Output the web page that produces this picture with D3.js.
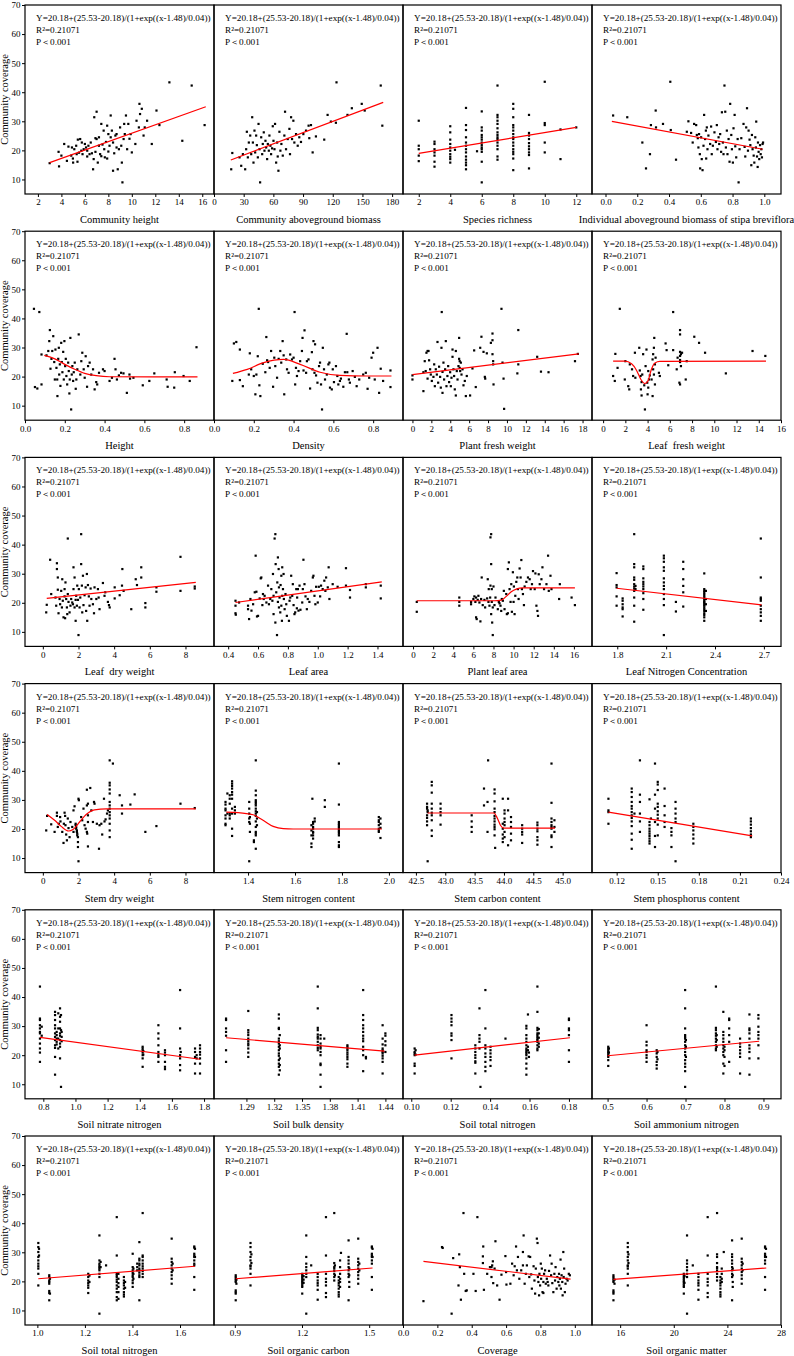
<!DOCTYPE html>
<html>
<head>
<meta charset="utf-8">
<script src="https://cdn.jsdelivr.net/npm/d3@7"></script>
<style>
  body { margin: 0; background: #fff; }
  svg { display: block; }
</style>
</head>
<body>
<svg id="chart" width="794" height="1356"></svg>
<script>
// ---- shared text / y axis ----
const eqText = "Y=20.18+(25.53-20.18)/(1+exp((x-1.48)/0.04))"
const r2Text = "R\u00B2=0.21071"
const pText = "P\uFF1C0.001"
const yTitle = "Community coverage"
const yTicks = [10, 20, 30, 40, 50, 60, 70]

// ---- panel data: [x, coverage] points, or [x, [coverage...]] columns ----
const commHeight = [[3.0,15.6],[3.76,19.5],[3.8,14.5],[4.0,18.2],[4.24,22.2],[4.47,16.4],[4.6,21.3],[4.84,18.2],[4.9,21.0],[4.98,17.2],[5.0,15.8],[5.1,20.4],[5.26,21.6],[5.3,18.7],[5.37,16.1],[5.4,23.7],[5.5,19.2],[5.6,23.9],[5.7,19.9],[5.74,22.7],[5.8,18.7],[5.9,20.4],[6.0,22.2],[6.1,21.0],[6.2,17.9],[6.2,19.9],[6.3,21.6],[6.4,18.7],[6.5,22.7],[6.6,19.0],[6.7,13.5],[6.75,17.0],[6.8,31.4],[6.9,19.5],[6.9,24.2],[7.0,33.3],[7.0,23.9],[7.1,15.8],[7.2,21.6],[7.2,24.5],[7.3,18.7],[7.4,29.1],[7.4,18.0],[7.5,22.0],[7.6,26.8],[7.65,20.4],[7.7,17.6],[7.8,22.9],[7.9,28.5],[7.9,17.2],[8.0,25.6],[8.0,19.6],[8.1,21.6],[8.2,32.0],[8.2,24.5],[8.3,26.8],[8.4,22.7],[8.4,13.0],[8.5,19.0],[8.6,25.1],[8.7,25.6],[8.7,21.0],[8.8,13.5],[8.9,20.4],[9.0,27.9],[9.1,21.6],[9.15,15.8],[9.2,9.0],[9.3,23.9],[9.35,29.1],[9.4,25.6],[9.5,32.0],[9.6,20.4],[9.7,29.1],[9.8,24.0],[9.9,25.6],[10.0,19.3],[10.3,22.2],[10.4,30.2],[10.6,27.9],[10.65,36.0],[10.7,32.5],[10.85,34.3],[11.0,25.1],[11.1,27.9],[11.3,30.2],[11.7,22.2],[12.1,33.7],[12.35,28.7],[13.2,43.4],[14.3,23.3],[15.1,42.3],[16.2,28.7]]
const fitCommHeight = [[3.0,15.8],[16.3,35.0]]

const commBiomass = [[17.4,13.5],[18.5,19.1],[25.8,17.6],[27.5,14.7],[29.2,18.7],[31.5,13.5],[32.5,20.4],[33.2,26.4],[34.2,17.6],[35.2,22.7],[36.6,25.1],[37.6,18.7],[38.6,31.4],[39.3,22.7],[39.9,15.8],[40.9,26.8],[41.6,19.3],[42.6,25.1],[43.3,21.8],[44.3,17.6],[45.0,29.1],[46.0,20.4],[46.6,9.0],[47.7,24.5],[48.7,18.7],[49.3,22.2],[50.3,26.2],[51.0,19.9],[52.0,23.3],[52.7,21.0],[53.7,17.0],[54.4,22.2],[55.4,19.9],[56.0,25.1],[57.0,21.6],[57.7,18.7],[58.7,20.7],[59.4,28.3],[60.1,23.3],[61.1,20.4],[61.7,29.1],[62.8,15.8],[63.8,22.7],[64.4,17.9],[65.1,13.0],[66.1,26.4],[67.1,19.9],[68.1,22.2],[69.5,18.2],[71.1,25.1],[71.8,33.3],[72.8,20.4],[74.5,23.9],[76.2,27.4],[76.8,18.7],[77.9,31.4],[78.9,23.9],[80.2,30.2],[81.2,22.7],[82.9,25.6],[84.6,21.6],[86.2,24.5],[87.9,22.9],[90.3,25.6],[93.0,26.8],[95.6,28.5],[96.3,24.2],[98.0,28.7],[99.7,19.3],[103,24.8],[111.4,23.7],[114.8,32.2],[118.1,29.9],[123.2,29.5],[123.8,43.4],[134.9,32.2],[139.3,34.5],[149.3,36.0],[152.3,33.7],[168.5,42.3],[170.1,28.5]]
const fitCommBiomass = [[17,16.7],[171,36.5]]

const richness = [[2,[30.2,21.6,20.4,18.2,16.3]],[3,[23.0,22.2,20.4,19.3,18.2,16.1,14.4]],[4,[28.3,26.2,23.7,22.2,21.0,19.9,18.7,17.8,17.0,15.8]],[4.3,[20.2]],[5,[34.6,28.7,27.0,24.5,22.7,21.6,20.4,19.3,17.9,16.8,15.8,14.9,13.5]],[5.7,[19.7]],[6,[33.4,27.9,26.8,25.3,24.5,23.7,22.7,21.8,21.0,20.4,19.5,16.1,9.0]],[7,[42.3,32.2,31.4,30.2,29.1,27.6,26.2,25.3,24.5,23.9,22.7,21.6,20.4,17.9,16.8]],[8,[36.0,34.3,31.4,28.7,27.9,26.8,25.6,24.5,23.9,22.7,21.6,20.4,19.5,18.7,17.2,13.2]],[9,[32.2,26.0,25.1,23.9,22.5,21.4,20.4,19.3,18.4,13.8]],[10,[43.6,29.4,28.7,22.7,19.3]],[11,[27.2,17.0]],[12,[27.9]]]
const fitRichness = [[2,19.0],[12,27.9]]

const indivBiomass = [[0.048,32.0],[0.137,31.4],[0.232,22.7],[0.255,13.8],[0.28,18.7],[0.286,28.7],[0.316,33.7],[0.318,27.9],[0.362,29.1],[0.408,43.6],[0.411,27.0],[0.444,16.8],[0.512,26.4],[0.522,30.0],[0.539,26.0],[0.549,22.7],[0.558,29.1],[0.571,28.7],[0.575,25.3],[0.581,24.2],[0.585,21.0],[0.589,25.6],[0.594,18.7],[0.596,13.8],[0.602,24.5],[0.606,17.0],[0.611,13.2],[0.617,21.6],[0.621,32.2],[0.627,23.9],[0.632,26.8],[0.634,17.2],[0.638,27.9],[0.642,20.4],[0.648,25.1],[0.659,22.2],[0.665,28.2],[0.669,18.7],[0.676,21.6],[0.686,26.2],[0.695,22.9],[0.701,28.7],[0.705,20.4],[0.712,24.5],[0.716,22.2],[0.722,25.6],[0.728,19.5],[0.733,33.1],[0.739,22.7],[0.743,18.7],[0.749,42.3],[0.754,33.3],[0.758,21.0],[0.764,26.8],[0.768,18.7],[0.775,23.9],[0.781,16.1],[0.785,36.0],[0.792,25.3],[0.796,20.4],[0.802,15.8],[0.806,27.6],[0.813,32.2],[0.817,21.4],[0.823,17.6],[0.832,23.9],[0.838,9.0],[0.844,20.4],[0.855,24.2],[0.869,29.1],[0.876,21.2],[0.88,17.9],[0.886,27.9],[0.891,34.5],[0.897,19.9],[0.901,26.8],[0.907,23.7],[0.912,21.8],[0.918,14.9],[0.922,25.3],[0.926,20.4],[0.933,18.2],[0.937,15.8],[0.943,24.5],[0.947,21.0],[0.949,29.9],[0.954,17.9],[0.958,14.3],[0.96,22.7],[0.964,19.5],[0.968,17.0],[0.973,21.8],[0.977,18.7],[0.981,20.4],[0.985,17.6],[0.989,22.2],[0.992,22.7]]
const fitIndivBiomass = [[0.04,30.0],[0.99,20.4]]

const heightPts = [[0.045,43.3],[0.072,42.2],[0.05,16.4],[0.062,15.9],[0.083,27.6],[0.083,17.3],[0.108,27.3],[0.117,28.8],[0.122,32.2],[0.125,36.0],[0.128,22.7],[0.133,26.1],[0.137,28.8],[0.142,33.9],[0.147,25.0],[0.15,19.0],[0.153,29.3],[0.158,23.0],[0.162,19.0],[0.163,13.3],[0.167,26.1],[0.17,29.9],[0.172,20.7],[0.175,24.2],[0.178,16.8],[0.182,31.6],[0.185,25.0],[0.188,21.5],[0.192,28.5],[0.195,19.0],[0.198,32.2],[0.202,23.6],[0.205,26.1],[0.208,20.2],[0.212,17.3],[0.217,24.8],[0.22,21.9],[0.223,14.2],[0.225,19.0],[0.228,33.3],[0.232,8.7],[0.235,20.7],[0.238,23.6],[0.242,18.5],[0.245,21.5],[0.25,24.8],[0.255,15.8],[0.258,19.0],[0.263,22.5],[0.27,34.5],[0.278,20.7],[0.283,25.3],[0.288,28.2],[0.295,22.5],[0.3,19.6],[0.305,27.0],[0.312,16.5],[0.317,23.6],[0.325,24.8],[0.333,20.7],[0.342,22.5],[0.35,15.6],[0.358,18.1],[0.363,17.3],[0.372,21.3],[0.392,22.5],[0.4,21.9],[0.425,18.5],[0.437,19.6],[0.45,26.1],[0.455,22.5],[0.462,19.0],[0.472,20.4],[0.483,21.3],[0.495,21.1],[0.512,14.4],[0.525,20.7],[0.528,19.3],[0.545,19.6],[0.592,17.0],[0.625,18.5],[0.65,21.1],[0.712,19.0],[0.717,16.5],[0.753,21.5],[0.75,16.2],[0.797,20.2],[0.828,18.5],[0.862,30.1]]
const fitHeight = [[0.097,27.3],[0.15,26.1],[0.2,24.2],[0.25,22.5],[0.3,21.1],[0.358,20.3],[0.425,19.95],[0.867,19.9]]

const densityPts = [[0.092,18.5],[0.1,31.4],[0.112,31.9],[0.13,29.3],[0.13,18.8],[0.145,16.7],[0.175,20.7],[0.18,28.0],[0.187,22.5],[0.2,20.2],[0.208,13.9],[0.213,20.7],[0.22,27.0],[0.225,43.3],[0.228,17.0],[0.233,13.3],[0.245,24.4],[0.258,21.5],[0.263,33.6],[0.267,25.6],[0.272,25.0],[0.28,23.0],[0.287,28.8],[0.297,16.5],[0.303,26.5],[0.308,23.6],[0.317,19.6],[0.325,26.1],[0.333,28.8],[0.338,24.8],[0.345,32.2],[0.35,27.3],[0.353,13.9],[0.363,25.9],[0.367,22.5],[0.375,21.3],[0.383,27.6],[0.392,25.9],[0.4,26.5],[0.405,42.2],[0.408,17.3],[0.412,23.0],[0.417,20.2],[0.425,21.9],[0.433,25.3],[0.442,28.8],[0.445,33.3],[0.45,22.1],[0.455,35.9],[0.463,21.3],[0.467,25.3],[0.475,25.9],[0.483,15.9],[0.492,28.4],[0.495,22.5],[0.5,32.2],[0.505,21.3],[0.508,31.1],[0.513,20.4],[0.52,17.9],[0.528,23.6],[0.533,24.8],[0.538,17.3],[0.543,8.7],[0.547,29.9],[0.553,22.5],[0.558,19.0],[0.567,20.7],[0.575,24.2],[0.58,24.8],[0.583,16.2],[0.592,15.6],[0.597,22.5],[0.603,18.1],[0.613,23.6],[0.62,20.2],[0.625,17.3],[0.633,18.5],[0.638,19.3],[0.65,16.5],[0.658,21.5],[0.667,34.7],[0.67,21.5],[0.678,19.0],[0.683,17.9],[0.697,21.9],[0.708,19.9],[0.717,16.7],[0.73,19.0],[0.75,20.7],[0.763,21.3],[0.772,15.8],[0.78,19.6],[0.792,26.5],[0.8,28.2],[0.808,19.0],[0.822,29.9],[0.83,14.4],[0.838,22.7],[0.85,18.5],[0.887,22.1],[0.887,16.4]]
const fitDensity = [[0.095,21.1],[0.167,22.5],[0.25,24.8],[0.35,25.9],[0.433,24.2],[0.533,21.5],[0.633,20.4],[0.767,20.2],[0.892,20.2]]

const plantFresh = [[0,20.4],[0,19.0],[1.16,21.5],[1.16,15.0],[1.3,25.3],[1.4,21.9],[1.48,28.2],[1.6,19.3],[1.6,28.8],[1.7,28.8],[1.76,25.6],[1.87,22.5],[1.94,20.7],[2.05,18.5],[2.22,19.9],[2.3,24.2],[2.37,16.7],[2.47,22.5],[2.58,20.7],[2.65,31.9],[2.72,17.9],[2.82,23.4],[2.93,19.9],[3.0,16.2],[3.07,29.9],[3.1,42.2],[3.18,21.6],[3.18,14.4],[3.28,24.8],[3.35,19.0],[3.46,22.5],[3.53,32.2],[3.6,16.7],[3.7,20.2],[3.78,23.6],[3.88,18.1],[3.99,21.5],[4.06,16.7],[4.13,19.6],[4.24,29.3],[4.24,26.8],[4.34,22.5],[4.41,20.2],[4.48,15.6],[4.59,28.8],[4.59,13.5],[4.69,21.9],[4.77,19.0],[4.87,23.6],[4.94,26.1],[4.94,33.3],[5.0,25.3],[5.0,23.0],[5.05,21.9],[5.12,24.8],[5.19,20.7],[5.3,22.5],[5.4,17.0],[5.54,18.5],[5.65,13.3],[5.75,20.2],[6.1,13.5],[6.35,22.8],[6.53,29.0],[6.7,16.4],[7.17,29.9],[7.3,33.7],[7.52,28.5],[7.66,19.9],[7.7,19.3],[7.87,28.0],[8.3,31.6],[8.47,34.8],[8.47,32.5],[8.47,27.7],[8.54,25.3],[8.54,24.2],[8.58,17.3],[9.42,43.3],[9.53,24.8],[9.64,19.3],[9.7,8.9],[11.2,36.0],[11.2,24.2],[11.1,21.1],[13.2,26.8],[13.6,21.7],[14.4,21.5],[17.2,25.3],[17.5,27.8]]
const fitPlantFresh = [[0,20.7],[17.6,27.8]]

const leafFresh = [[0.9,20.2],[1.05,18.5],[1.1,27.8],[1.3,23.0],[1.5,43.3],[1.95,19.0],[2.0,25.3],[2.26,16.7],[2.35,15.6],[2.4,24.2],[2.6,22.5],[2.7,20.2],[2.86,28.2],[2.9,19.6],[3.25,29.9],[3.3,22.1],[3.37,20.2],[3.4,15.6],[3.46,18.1],[3.46,13.5],[3.52,20.7],[3.6,27.7],[3.7,17.0],[3.76,8.7],[3.82,23.6],[3.9,29.3],[3.97,17.9],[4.0,13.9],[4.06,21.9],[4.06,16.2],[4.12,19.0],[4.2,20.4],[4.36,19.0],[4.45,25.9],[4.45,13.3],[4.5,27.7],[4.5,22.5],[4.57,29.9],[4.57,20.7],[4.6,33.3],[4.66,24.2],[4.66,17.3],[4.72,26.5],[5.02,21.3],[5.1,20.2],[5.62,31.4],[5.71,29.1],[5.86,23.9],[6.3,42.2],[6.3,29.1],[6.62,22.5],[6.7,26.5],[6.86,17.9],[6.92,36.0],[6.92,34.5],[6.92,28.5],[6.92,27.1],[6.92,25.7],[6.92,25.0],[6.92,17.3],[7.0,27.7],[7.0,23.6],[7.1,28.2],[7.43,19.0],[7.52,25.3],[8.2,33.7],[8.63,31.6],[9.17,28.2],[11.04,21.1],[13.44,28.8],[14.59,27.1]]
const fitLeafFresh = [[0.9,25.3],[1.95,25.3],[2.56,24.4],[3.0,22.2],[3.4,19.0],[3.75,17.6],[4.05,18.6],[4.3,22.0],[4.66,24.7],[5.1,25.2],[14.65,25.3]]

const leafDry = [[0.19,16.7],[0.22,19.3],[0.41,34.8],[0.47,23.0],[0.71,21.8],[0.75,19.0],[0.79,33.6],[0.79,31.6],[0.84,28.7],[0.84,24.5],[0.88,16.4],[0.94,21.3],[0.97,19.5],[1.03,24.1],[1.07,18.4],[1.09,28.1],[1.12,20.7],[1.16,15.0],[1.22,22.2],[1.22,24.7],[1.25,14.7],[1.27,27.0],[1.31,21.3],[1.35,18.4],[1.37,16.1],[1.4,42.1],[1.4,23.0],[1.44,20.3],[1.5,16.7],[1.55,19.0],[1.59,21.3],[1.65,20.1],[1.69,19.5],[1.72,32.2],[1.72,24.7],[1.78,18.4],[1.78,28.7],[1.84,21.0],[1.84,13.8],[1.87,22.4],[1.91,19.0],[1.93,25.9],[1.97,21.0],[2.0,8.9],[2.02,24.7],[2.06,18.4],[2.1,21.8],[2.15,43.6],[2.15,33.3],[2.19,25.9],[2.21,16.7],[2.25,29.3],[2.28,19.2],[2.34,22.6],[2.4,25.3],[2.43,17.2],[2.47,29.9],[2.49,13.8],[2.53,26.1],[2.58,22.2],[2.62,19.0],[2.68,24.9],[2.72,21.3],[2.81,19.5],[2.87,16.4],[2.9,25.3],[3.0,21.3],[3.09,24.7],[3.13,21.8],[3.18,17.8],[3.37,26.8],[3.46,22.4],[3.5,23.6],[3.65,20.3],[3.71,19.2],[3.75,18.4],[4.03,21.5],[4.03,25.3],[4.31,22.6],[4.44,25.9],[4.46,31.6],[4.53,24.1],[4.96,17.8],[5.21,28.1],[5.28,26.1],[5.52,32.2],[5.52,28.7],[5.75,19.9],[5.75,18.4],[6.37,25.3],[6.37,23.8],[7.72,35.8],[7.72,24.1],[8.52,25.6],[8.52,24.9]]
const fitLeafDry = [[0.22,21.5],[8.58,27.0]]

const leafArea = [[0.449,20.7],[0.449,19.0],[0.449,16.4],[0.451,15.9],[0.473,20.1],[0.533,19.0],[0.533,17.8],[0.54,14.4],[0.549,21.3],[0.556,17.3],[0.567,19.5],[0.578,23.6],[0.584,36.2],[0.589,23.8],[0.593,15.3],[0.6,15.5],[0.611,21.5],[0.618,28.4],[0.622,28.7],[0.629,19.2],[0.633,23.0],[0.638,21.3],[0.644,22.4],[0.656,20.1],[0.667,25.9],[0.673,19.5],[0.682,21.3],[0.689,24.7],[0.696,20.7],[0.7,29.9],[0.704,22.4],[0.704,16.1],[0.711,42.1],[0.716,43.6],[0.716,13.2],[0.718,33.3],[0.722,23.6],[0.727,8.9],[0.729,27.0],[0.733,35.6],[0.733,20.3],[0.738,31.6],[0.74,25.3],[0.74,18.4],[0.744,21.8],[0.749,16.7],[0.751,26.1],[0.756,29.3],[0.756,19.0],[0.76,13.8],[0.762,32.2],[0.762,22.4],[0.767,24.7],[0.771,29.9],[0.773,21.3],[0.778,17.8],[0.784,23.0],[0.789,19.5],[0.793,15.5],[0.807,13.8],[0.811,20.7],[0.816,21.8],[0.822,29.3],[0.829,22.4],[0.833,26.4],[0.838,19.2],[0.844,16.1],[0.849,16.7],[0.856,24.7],[0.86,18.1],[0.862,21.8],[0.867,24.7],[0.871,17.3],[0.878,25.9],[0.884,17.6],[0.896,20.1],[0.9,24.7],[0.904,34.8],[0.911,26.4],[0.918,22.2],[0.927,17.8],[0.933,21.3],[0.944,20.3],[0.956,24.1],[0.967,28.7],[0.971,29.3],[0.978,22.4],[0.984,19.5],[0.989,25.5],[1.0,20.1],[1.007,25.5],[1.016,22.2],[1.022,25.9],[1.033,24.7],[1.044,27.6],[1.051,24.1],[1.056,28.7],[1.067,25.3],[1.073,32.2],[1.078,21.3],[1.1,26.4],[1.133,25.5],[1.189,31.9],[1.189,25.9],[1.216,24.4],[1.216,21.8],[1.322,26.4],[1.322,25.3],[1.422,25.9],[1.422,21.5]]
const fitLeafArea = [[0.449,20.1],[1.429,27.2]]

const plantLeafArea = [[0.37,20.3],[0.37,16.9],[4.6,21.8],[4.6,20.3],[4.6,19.0],[5.77,20.3],[5.77,19.5],[6.0,21.3],[6.1,22.2],[6.2,20.3],[6.27,21.8],[6.27,15.0],[6.33,14.4],[6.43,21.0],[6.5,22.4],[6.6,20.1],[6.7,13.6],[6.77,21.3],[6.83,28.7],[6.93,19.2],[7.1,21.0],[7.17,18.4],[7.37,21.5],[7.43,28.1],[7.5,20.3],[7.53,24.7],[7.6,19.0],[7.67,21.8],[7.7,42.5],[7.7,25.9],[7.77,43.6],[7.77,33.3],[7.77,16.1],[7.83,24.7],[7.83,20.3],[7.87,13.2],[7.93,8.9],[7.93,18.4],[8.0,25.6],[8.1,19.2],[8.2,21.8],[8.43,17.8],[8.53,20.3],[8.6,19.8],[8.7,19.0],[8.77,17.2],[8.83,21.3],[8.93,20.7],[9.03,24.1],[9.1,17.8],[9.27,23.0],[9.33,16.1],[9.43,31.6],[9.43,16.4],[9.53,33.9],[9.6,24.7],[9.7,20.3],[9.77,26.4],[9.83,16.9],[9.93,30.5],[10.0,20.3],[10.03,25.6],[10.1,16.1],[10.17,22.4],[10.27,27.2],[10.37,28.7],[10.43,24.7],[10.5,21.3],[10.6,31.8],[10.7,28.7],[10.77,34.7],[10.83,24.7],[10.93,23.0],[11.03,19.2],[11.1,25.6],[11.27,27.2],[11.43,28.7],[11.6,28.1],[11.7,24.7],[11.83,26.4],[11.93,30.9],[12.1,24.7],[12.17,30.1],[12.27,19.0],[12.37,17.2],[12.43,15.5],[12.5,29.8],[12.6,26.4],[12.77,28.1],[12.87,32.2],[13.03,24.7],[13.27,26.4],[13.43,36.2],[13.5,24.1],[13.67,29.3],[13.77,24.7],[14.6,26.4],[14.53,21.3],[15.77,21.8],[16.1,19.2]]
const fitPlantLeafArea = [[0.37,20.7],[8.1,20.7],[8.77,20.9],[9.27,22.2],[9.77,23.8],[10.27,24.7],[10.93,25.1],[16.1,25.1]]

const leafN = [[1.796,[30.2,26.1,25.3,22.2,19.0]],[1.833,[21.5,20.7,19.5,18.4,17.8,15.3]],[1.904,[43.6,33.3,32.2,28.7,27.9,26.4,25.6,24.9,24.1,21.8,19.0,13.5]],[1.912,[25.8,24.7]],[1.96,[32.5,31.6,28.4,27.2,26.4,25.6,24.7,23.3,21.3,17.6]],[2.086,[36.2,35.3,34.1,32.2,31.0,28.4,27.0,25.8,24.7,23.0,21.3,19.2,8.9]],[2.16,[17.0,20.3]],[2.205,[34.1,31.6,28.1,25.8,23.6,18.7]],[2.334,[30.1,24.7,24.1,23.6,23.0,22.4,21.8,21.3,20.7,20.3,19.9,19.4,19.0,18.4,17.8,17.2,16.4,15.8,15.0,13.8]],[2.344,[24.1,21.3,19.5,17.2]],[2.681,[42.1,28.7,21.8,21.3,20.7,19.0,17.8,16.7,15.5,13.8]]]
const fitLeafN = [[1.796,25.0],[2.685,19.3]]

const stemDry = [[0.19,19.5],[0.24,24.5],[0.47,21.6],[0.66,19.0],[0.79,25.6],[0.79,24.5],[0.84,20.7],[0.9,21.8],[0.97,24.1],[0.99,22.6],[1.09,19.0],[1.16,15.2],[1.18,21.8],[1.22,25.6],[1.25,24.5],[1.27,21.3],[1.31,18.1],[1.35,16.1],[1.4,23.6],[1.44,20.3],[1.5,17.2],[1.55,22.4],[1.65,20.7],[1.72,26.4],[1.72,19.0],[1.78,27.8],[1.84,21.8],[1.84,21.3],[1.87,20.7],[1.87,20.1],[1.91,19.5],[1.91,19.0],[1.93,18.4],[1.93,17.8],[1.97,17.2],[1.97,15.5],[1.97,13.8],[2.0,8.9],[2.0,30.4],[2.02,29.9],[2.15,24.1],[2.21,23.0],[2.28,27.0],[2.34,21.3],[2.4,20.1],[2.47,33.5],[2.47,28.1],[2.47,19.0],[2.49,18.4],[2.53,14.0],[2.53,28.7],[2.53,24.7],[2.53,22.4],[2.66,34.1],[2.72,26.4],[2.81,22.4],[2.87,29.3],[2.9,28.7],[3.03,21.8],[3.15,13.2],[3.18,21.3],[3.28,21.8],[3.33,18.1],[3.43,30.4],[3.46,22.6],[3.52,23.3],[3.6,25.3],[3.65,26.4],[3.75,43.6],[3.75,35.9],[3.75,35.0],[3.75,33.6],[3.75,32.2],[3.75,29.3],[3.75,28.1],[3.75,27.0],[3.75,25.8],[3.75,24.7],[3.75,23.6],[3.75,21.8],[3.75,19.5],[3.75,17.2],[3.93,42.5],[4.31,31.6],[4.44,28.1],[4.44,25.3],[5.15,31.9],[4.91,28.4],[5.75,19.0],[6.37,21.0],[7.72,28.7],[8.52,27.2]]
const fitStemDry = [[0.24,25.0],[0.66,23.0],[1.03,20.9],[1.45,19.3],[1.69,19.8],[2.06,22.4],[2.43,25.0],[2.9,26.6],[3.56,26.9],[8.58,26.9]]

const stemN = [[1.304,[29.3,28.4,27.0,26.4,24.7,23.6,21.8,21.3]],[1.312,[32.2,25.3]],[1.322,[31.6,30.4,28.7,25.3,24.7,23.6]],[1.332,[36.4,35.6,34.8,33.9,32.7,31.8,30.4,27.0,25.3,20.1,17.6]],[1.344,[27.6,26.4,25.3]],[1.405,[29.3,27.0,25.3,23.6,22.4,8.9]],[1.408,[24.1,21.8,19.0]],[1.425,[15.5,16.1]],[1.433,[43.6,33.2,31.6,29.9,29.3,28.7,28.1,27.0,26.1,25.3,24.5,22.6,20.7,19.0,18.4,17.8,13.2]],[1.438,[25.8,23.6,21.3]],[1.67,[21.3,19.5,17.8,15.0,13.8]],[1.674,[30.4]],[1.677,[22.4,21.8,20.7,20.1,19.0,18.7,17.8,16.7]],[1.684,[23.6,22.6]],[1.727,[29.9,27.6]],[1.787,[42.5,28.4,22.4,21.8,21.3,20.7,20.1,19.5,19.0,18.4,17.8,15.5,14.4,13.8]],[1.957,[24.1,23.0,22.4,21.3,20.1,19.5,19.0]],[1.964,[23.6,21.8,20.4,16.9]]]
const fitStemN = [[1.308,25.8],[1.393,25.3],[1.422,24.9],[1.464,23.0],[1.507,20.9],[1.55,20.1],[1.592,20.0],[1.97,20.0]]

const stemC = [[42.69,[28.7,27.6,27.0,24.7,23.8,22.6,21.3]],[42.7,[26.4,25.8,8.9]],[42.77,[36.2,35.0,32.5,28.7,27.0,25.6,24.7,23.0,19.5,17.6]],[42.92,[28.7,27.0,25.8,24.7,21.5]],[43.45,[24.7,22.6,20.7,19.0]],[43.66,[33.9,28.1]],[43.72,[29.3,19.0]],[43.73,[43.6]],[43.84,[33.6,32.2,29.5,27.0,25.8,24.5,23.6,22.6,21.5,20.7,19.9,17.8]],[43.85,[13.5]],[43.98,[30.4,21.8,20.1,18.1,16.7,15.5]],[44.01,[26.4,25.3,23.6,22.4,21.3,19.0,17.2]],[44.07,[30.4,26.4,14.4]],[44.12,[24.1,22.4,20.7,18.4,16.1]],[44.31,[21.3,20.1,19.0,18.1,15.2]],[44.57,[22.2,21.3,20.1,19.2,17.2,16.1,14.6]],[44.81,[42.5,29.0,23.6,22.4,21.3,20.7,20.1,17.8,17.2,13.8]],[44.86,[23.0,20.7,19.0]]]
const fitStemC = [[42.7,25.5],[43.83,25.5],[43.89,23.6],[43.94,21.3],[44.0,20.3],[44.87,20.3]]

const stemP = [[0.114,[30.4,26.4,21.8,25.8]],[0.131,[33.9,32.7,31.0,29.3,27.9,27.0,25.8,24.7,23.8,22.6,21.0,18.4,16.3,13.2]],[0.133,[25.3]],[0.137,[31.8,29.3,43.6,25.3,22.6,19.0]],[0.144,[30.2,22.4,21.3,20.1,19.2,18.4,17.6,16.7,15.8,15.0]],[0.145,[23.6]],[0.148,[42.5,31.8,27.0,22.4,17.6,13.8]],[0.15,[36.2,35.3,33.4,28.7,27.6,26.1,24.9,23.6,21.5,17.8]],[0.155,[33.9,27.9,24.7,22.4,20.7]],[0.16,[20.3,19.0,13.8,17.8]],[0.163,[29.3,27.0,25.3,23.6,8.9,22.4]],[0.176,[21.8,20.7,19.5,18.1,16.7,15.0]],[0.218,[23.6,22.6,21.5,20.3,19.2,18.1,17.2]]]
const fitStemP = [[0.114,25.8],[0.219,17.6]]

const soilNitrate = [[0.779,[43.6,32.6,32.1,30.3,29.2,28.0,27.5,25.7,24.0,22.3,20.9,17.7]],[0.79,[29.8,26.7]],[0.873,[34.9,33.8,32.1,30.3,29.2,27.5,26.3,25.2,23.4,22.5,19.4,13.3]],[0.883,[28.0,26.9,25.7,24.6,23.7]],[0.893,[34.4,29.2,25.7,22.3]],[0.904,[36.1,33.2,31.5,29.2,27.5,26.7,25.2,24.0,22.9,18.9]],[0.91,[9.1,33.8,28.6]],[0.914,[28.0,26.3,24.8]],[1.418,[22.9,22.3,21.7,20.9,20.0,18.9,16.0]],[1.422,[21.4,20.2]],[1.516,[30.3,27.5,25.7,23.4,21.1,20.0,19.4,17.7]],[1.557,[21.7,20.9,20.0,17.7,16.0,15.2]],[1.651,[42.4,29.2,22.3,20.0,18.9,16.6,14.8]],[1.655,[21.1]],[1.744,[22.3,21.1,19.4,17.1,13.7]],[1.754,[20.0,18.9]],[1.775,[23.4,22.3,21.1,20.2,18.9,17.1,13.7]]]
const fitSoilNitrate = [[0.779,26.1],[1.775,18.6]]

const bulkDensity = [[1.268,[32.6,32.1,29.2,28.0,26.7,21.7,17.7]],[1.292,[35.2,28.6,27.8,26.9,25.7,24.8,24.0,23.4,22.3,20.9,19.4]],[1.325,[34.0,32.6,29.4,29.0,25.7,24.8,24.0,22.9,21.7,20.6,19.8,18.3,17.1,16.0,13.3]],[1.326,[26.9,23.4,22.3,18.9,16.6,14.8]],[1.367,[43.6,36.1,29.4,28.6,27.1,26.3,25.7,24.6,23.4,22.5,21.7]],[1.37,[26.9,25.7,24.0,22.9,22.3,21.1,20.0,17.1,16.6,13.3,9.1]],[1.374,[25.7]],[1.399,[23.4,22.9,22.3,21.7,20.9,20.2,19.4,18.6,17.1,16.0]],[1.416,[42.4,33.8,32.1,30.3,29.2,28.0,26.7,25.7,24.8,22.9,21.7,20.0,14.5]],[1.419,[19.4,18.9]],[1.437,[30.3,25.7,23.7,22.3,21.7,21.1,20.6,19.8,18.9,17.7,13.7]],[1.44,[27.5,26.7,24.8,23.4,21.1]]]
const fitBulkDensity = [[1.268,26.0],[1.439,21.4]]

const soilTN = [[0.1017,[22.3,21.1,20.6,20.0,17.1,16.3,13.7]],[0.1022,[21.7,20.2]],[0.1204,[33.8,32.6,31.5,30.3,27.5,26.7,25.2,18.9]],[0.1325,[23.4,22.3,21.1,20.0,19.1,17.9,17.4,13.7]],[0.1346,[36.1,26.9,25.7,24.6,22.3]],[0.1351,[9.1]],[0.1376,[42.4,29.2,23.4,22.3,20.6,19.4,17.7,16.0,14.5]],[0.1402,[22.9,21.7,20.6,19.4,18.3,16.3]],[0.1478,[25.7]],[0.1584,[30.1,29.2,26.9,25.7,24.6,23.4,22.3,21.7,21.1,20.6,20.0,18.9,17.1,15.4,13.3]],[0.1592,[34.0,22.9,21.7]],[0.1597,[20.9,19.4]],[0.164,[43.6,34.9,29.4,28.6,27.5,26.9,26.3,25.7,25.2,24.6,23.4,22.3,21.7]],[0.1647,[29.0,27.5,26.0,24.0,22.9]],[0.18,[32.6,32.1,29.2,28.6,26.9,21.7,17.7]]]
const fitSoilTN = [[0.1017,20.0],[0.1805,26.0]]

const soilNH4 = [[0.5017,[22.9,22.3,21.7,21.1,20.6,20.0,19.4,18.3,16.3]],[0.5034,[22.3,20.9]],[0.6,[30.3,24.6,23.4,21.7,21.1,20.0,19.1,17.7]],[0.626,[21.7,20.6,19.4,17.7,16.6,15.4]],[0.628,[21.1,18.6]],[0.699,[42.4,36.1,29.2,26.9,26.3,25.7,24.6,23.4,22.3,21.1,20.0,18.3,17.1,16.0,14.5,9.1]],[0.701,[25.2,22.9,19.4]],[0.778,[43.6,29.4,28.6,27.5,26.7,25.7,24.6,23.4,22.3,21.7]],[0.78,[26.9,25.2,22.9]],[0.797,[28.0,26.9,25.7,24.6,23.4,22.3,21.1,20.0,17.1,13.7,34.9]],[0.8,[22.9,21.7,19.4,16.3]],[0.812,[32.6,32.1,29.2,26.9,24.6,17.7]],[0.84,[25.7,24.0,22.9,21.7,20.6,19.4,13.7]],[0.864,[34.0,29.2,28.6,27.5,25.7,23.4,22.3,21.1,18.9,13.3]],[0.887,[33.8,32.6,29.8,28.0,26.9,25.7,23.4,18.9]]]
const fitSoilNH4 = [[0.5,19.8],[0.889,24.8]]

const soilTN2 = [[1.004,[33.2,31.8,30.1,28.4,27.2,26.1,25.2,24.4,22.6,18.6]],[1.007,[31.2,28.9]],[1.05,[22.1,21.5,20.3,19.8,19.2,16.7,16.0,13.5]],[1.053,[20.9,15.8]],[1.214,[22.6,21.5,20.3,19.4,18.6,17.8,16.0]],[1.219,[22.0,19.8]],[1.261,[35.8,27.2,26.1,25.5,24.9,24.4,23.8,22.6,21.5,8.9]],[1.266,[26.7,24.9]],[1.289,[25.5]],[1.334,[42.1,28.9,22.6,22.1,21.5,20.6,19.8,18.6,17.5,16.3,14.6,13.5]],[1.341,[22.6,20.9,19.4,18.1,16.3,14.0]],[1.364,[21.5,20.3,19.4,18.6,17.5,16.3,15.5,14.8]],[1.369,[19.8,17.8]],[1.401,[29.5,24.9,23.8,22.9,22.1,21.5,20.3,19.4,18.1]],[1.404,[24.4,22.6,20.9]],[1.42,[26.1,24.9,23.8]],[1.429,[33.5,27.8,27.2,26.1,25.5,24.4,23.8,23.0,22.1,21.5,13.5]],[1.443,[43.5,28.9,28.4,27.2,26.1,25.2,24.4,23.6,22.6,21.5]],[1.565,[34.7,27.8,26.7,25.5,24.4,23.2,22.1,20.9,19.2]],[1.569,[26.1,23.8]],[1.66,[32.0,31.6,29.5,28.9,28.4,27.2,26.1,25.5,21.5,17.1]],[1.663,[31.2,28.4]]]
const fitSoilTN2 = [[1.004,20.9],[1.663,25.2]]

const soilOC = [[0.904,[22.1,21.5,20.9,20.3,19.8,16.9,16.3,15.8,13.5]],[0.907,[20.6,19.2]],[0.97,[33.2,31.8,30.1,28.4,27.2,25.5,25.2,24.4,22.6,18.6]],[0.974,[29.3,26.3]],[1.201,[22.6,22.1,21.5,20.9,20.3,19.8,19.2,18.6,18.1,15.8]],[1.207,[21.8,20.6,19.5]],[1.219,[35.8,28.4,26.1,24.9,23.8,22.6,21.5,8.9]],[1.241,[25.5]],[1.27,[22.6,21.5,20.3,19.4,18.6,17.1,13.7]],[1.307,[42.1,28.9,22.6,20.9,19.8,18.6,16.0,14.6]],[1.344,[43.5,26.3,24.9,24.4,23.6,22.6,21.5,20.3]],[1.347,[25.5,22.1]],[1.364,[21.5,20.3,19.4,18.6,17.5,16.3,15.5,14.8]],[1.37,[27.2,24.9,22.6,20.9,19.8,18.1]],[1.374,[29.8]],[1.408,[34.1,28.4,27.2,26.1,24.9,23.8,22.6,21.5,13.5]],[1.411,[24.4,22.1,19.8,18.1]],[1.451,[34.7,27.8,26.7,25.5,24.4,23.2,22.1,20.9,19.2]],[1.456,[26.1,23.8]],[1.512,[32.0,31.6,29.5,28.9,28.4,27.2,26.1,21.5,17.1]],[1.515,[31.2,28.4]]]
const fitSoilOC = [[0.904,20.9],[1.515,24.6]]

const coveragePts = [[0.119,13.2],[0.227,31.8],[0.231,31.5],[0.283,8.9],[0.292,28.0],[0.323,18.6],[0.327,29.3],[0.331,24.9],[0.337,13.7],[0.352,43.5],[0.356,22.6],[0.365,16.7],[0.371,16.9],[0.41,22.6],[0.423,16.7],[0.433,42.1],[0.465,28.6],[0.465,26.3],[0.467,32.0],[0.471,17.1],[0.49,22.6],[0.506,24.9],[0.515,24.9],[0.515,21.5],[0.519,25.5],[0.523,26.9],[0.525,19.4],[0.533,24.4],[0.538,33.8],[0.548,18.6],[0.562,13.7],[0.573,22.3],[0.596,28.7],[0.6,23.2],[0.602,18.9],[0.625,19.2],[0.635,26.1],[0.644,22.1],[0.65,25.2],[0.658,32.0],[0.663,23.8],[0.669,28.4],[0.677,20.9],[0.688,23.8],[0.698,30.1],[0.698,25.5],[0.702,35.8],[0.708,19.2],[0.715,22.6],[0.721,25.5],[0.731,28.6],[0.735,21.5],[0.74,28.4],[0.746,22.4],[0.75,17.5],[0.76,25.2],[0.765,20.3],[0.769,15.8],[0.773,24.4],[0.779,34.7],[0.783,33.2],[0.785,21.5],[0.788,19.8],[0.792,15.2],[0.794,22.6],[0.798,18.6],[0.802,26.1],[0.804,20.9],[0.808,24.4],[0.812,16.3],[0.817,19.8],[0.817,16.0],[0.821,22.6],[0.827,23.8],[0.831,19.2],[0.837,20.9],[0.842,19.8],[0.846,18.6],[0.85,23.6],[0.856,28.9],[0.862,22.1],[0.865,26.1],[0.869,19.4],[0.875,16.3],[0.881,22.6],[0.885,20.3],[0.888,24.9],[0.894,17.5],[0.898,21.5],[0.904,19.8],[0.908,22.6],[0.91,18.6],[0.913,20.9],[0.917,27.5],[0.919,17.5],[0.923,22.1],[0.927,19.8],[0.929,15.2],[0.933,30.1],[0.935,21.5],[0.938,24.4],[0.942,16.3],[0.946,19.2],[0.952,20.9],[0.958,20.3],[0.965,22.6],[0.971,22.1]]
const fitCoverage = [[0.119,26.9],[0.975,20.8]]

const soilOM = [[15.5,[22.1,21.5,20.9,20.3,19.8,16.9,16.3,15.8,13.5]],[15.58,[20.6,19.2]],[16.57,[33.2,31.8,30.1,28.4,27.2,25.5,25.2,24.4,22.6,18.6]],[16.62,[29.3,26.3]],[20.75,[22.6,22.1,21.5,20.9,20.3,19.8,19.2,18.6,18.1,15.8]],[20.8,[21.8,19.5]],[20.99,[35.8,27.2,26.1,24.9,23.8,22.6,21.5,8.9]],[21.42,[25.5]],[21.84,[22.6,21.5,20.3,19.4,18.6,17.1,13.7]],[22.53,[42.1,28.9,22.6,20.9,19.8,18.6,16.0,14.6]],[23.23,[43.5,29.3,28.4,26.3,24.9,24.4,23.6,22.6,21.5,20.3]],[23.48,[21.5,20.3,19.4,18.6,17.5,16.3,15.5,14.8]],[23.58,[24.4,22.6,20.9,19.8]],[23.73,[30.1]],[24.35,[34.1,29.3,28.4,27.2,26.1,24.9,23.8,22.6,21.5,13.5]],[24.4,[24.4,22.1,19.8,18.1]],[25.07,[34.7,27.8,26.7,25.5,24.4,23.2,22.1,20.9,19.2]],[25.14,[26.1,23.8]],[26.81,[32.0,31.6,29.5,28.9,28.4,27.2,26.1,21.5,17.1]],[26.88,[31.2,28.4]]]
const fitSoilOM = [[15.5,20.7],[26.9,24.6]]

// ---- panel list (row by row, 4 per row) ----
const panels = [
    { title: "Community height", pts: commHeight, fit: fitCommHeight, dom: [0.9, 17], ticks: [2,4,6,8,10,12,14,16], fmt: "d" },
    { title: "Community aboveground biomass", pts: commBiomass, fit: fitCommBiomass, dom: [0, 191], ticks: [0,30,60,90,120,150,180], fmt: "d" },
    { title: "Species richness", cols: richness, fit: fitRichness, dom: [1, 13], ticks: [2,4,6,8,10,12], fmt: "d" },
    { title: "Individual aboveground biomass of stipa breviflora", pts: indivBiomass, fit: fitIndivBiomass, dom: [-0.085, 1.105], ticks: [0,0.2,0.4,0.6,0.8,1.0], fmt: ".1f" },
    { title: "Height", pts: heightPts, fit: fitHeight, dom: [0, 0.95], ticks: [0,0.2,0.4,0.6,0.8], fmt: ".1f" },
    { title: "Density", pts: densityPts, fit: fitDensity, dom: [0, 0.95], ticks: [0,0.2,0.4,0.6,0.8], fmt: ".1f" },
    { title: "Plant fresh weight", pts: plantFresh, fit: fitPlantFresh, dom: [-1, 19], ticks: [0,2,4,6,8,10,12,14,16,18], fmt: "d" },
    { title: "Leaf  fresh weight", pts: leafFresh, fit: fitLeafFresh, dom: [-1, 16], ticks: [0,2,4,6,8,10,12,14,16], fmt: "d" },
    { title: "Leaf  dry weight", pts: leafDry, fit: fitLeafDry, dom: [-1, 9.6], ticks: [0,2,4,6,8], fmt: "d" },
    { title: "Leaf area", pts: leafArea, fit: fitLeafArea, dom: [0.305, 1.571], ticks: [0.4,0.6,0.8,1.0,1.2,1.4], fmt: ".1f" },
    { title: "Plant leaf area", pts: plantLeafArea, fit: fitPlantLeafArea, dom: [-1, 17.8], ticks: [0,2,4,6,8,10,12,14,16], fmt: "d" },
    { title: "Leaf Nitrogen Concentration", cols: leafN, fit: fitLeafN, dom: [1.645, 2.805], ticks: [1.8,2.1,2.4,2.7], fmt: ".1f" },
    { title: "Stem dry weight", pts: stemDry, fit: fitStemDry, dom: [-1, 9.6], ticks: [0,2,4,6,8], fmt: "d" },
    { title: "Stem nitrogen content", cols: stemN, fit: fitStemN, dom: [1.255, 2.06], ticks: [1.4,1.6,1.8,2.0], fmt: ".1f" },
    { title: "Stem carbon content", cols: stemC, fit: fitStemC, dom: [42.28, 45.5], ticks: [42.5,43,43.5,44,44.5,45], fmt: ".1f" },
    { title: "Stem phosphorus content", cols: stemP, fit: fitStemP, dom: [0.102, 0.24], ticks: [0.12,0.15,0.18,0.21,0.24], fmt: ".2f" },
    { title: "Soil nitrate nitrogen", cols: soilNitrate, fit: fitSoilNitrate, dom: [0.686, 1.862], ticks: [0.8,1.0,1.2,1.4,1.6,1.8], fmt: ".1f" },
    { title: "Soil bulk density", cols: bulkDensity, fit: fitBulkDensity, dom: [1.255, 1.459], ticks: [1.29,1.32,1.35,1.38,1.41,1.44], fmt: ".2f" },
    { title: "Soil total nitrogen", cols: soilTN, fit: fitSoilTN, dom: [0.0958, 0.1917], ticks: [0.10,0.12,0.14,0.16,0.18], fmt: ".2f" },
    { title: "Soil ammonium nitrogen", cols: soilNH4, fit: fitSoilNH4, dom: [0.46, 0.945], ticks: [0.5,0.6,0.7,0.8,0.9], fmt: ".1f" },
    { title: "Soil total nitrogen", cols: soilTN2, fit: fitSoilTN2, dom: [0.948, 1.743], ticks: [1.0,1.2,1.4,1.6], fmt: ".1f" },
    { title: "Soil organic carbon", cols: soilOC, fit: fitSoilOC, dom: [0.807, 1.651], ticks: [0.9,1.2,1.5], fmt: ".1f" },
    { title: "Coverage", pts: coveragePts, fit: fitCoverage, dom: [0, 1.1], ticks: [0,0.2,0.4,0.6,0.8,1.0], fmt: ".1f" },
    { title: "Soil organic matter", cols: soilOM, fit: fitSoilOM, dom: [13.9, 28], ticks: [16,20,24,28], fmt: "d" }
]

// layout
const left0 = 25, top0 = 5
const panelW = 189, panelH = 189, rowStep = 226.2
const font = "'Liberation Serif', 'Times New Roman', serif"

const svg = d3.select("#chart")
const y = d3.scaleLinear().domain([5, 70]).range([panelH, 0])

panels.forEach(function (p, i) {
    const col = i % 4, row = Math.floor(i / 4)
    const g = svg.append("g")
        .attr("transform", `translate(${left0 + col * panelW},${top0 + row * rowStep})`)

    const x = d3.scaleLinear().domain(p.dom).range([0, panelW])
    const pts = p.cols ? p.cols.flatMap(([xv, ys]) => ys.map(v => [xv, v])) : p.pts

    // x axis
    const xa = g.append("g")
        .attr("transform", `translate(0,${panelH})`)
        .call(d3.axisBottom(x).tickValues(p.ticks).tickFormat(d3.format(p.fmt)).tickSize(3).tickPadding(2))
    xa.select(".domain").remove()
    xa.selectAll("line").attr("stroke", "#000").attr("stroke-width", 1)
    xa.selectAll("text").attr("font-family", font).attr("font-size", 9).attr("fill", "#000")

    // y axis on the first column only
    if (col === 0) {
        const ya = g.append("g")
            .call(d3.axisLeft(y).tickValues(yTicks).tickSize(3).tickPadding(1.5))
        ya.select(".domain").remove()
        ya.selectAll("line").attr("stroke", "#000").attr("stroke-width", 1)
        ya.selectAll("text").attr("font-family", font).attr("font-size", 9).attr("fill", "#000")

        g.append("text")
            .attr("transform", `translate(-17,${panelH / 2}) rotate(-90)`)
            .attr("text-anchor", "middle")
            .attr("font-family", font)
            .attr("font-size", 10.5)
            .text(yTitle)
    }

    // points
    g.append("g").selectAll("rect")
        .data(pts)
        .join("rect")
            .attr("x", d => x(d[0]) - 1.1)
            .attr("y", d => y(d[1]) - 1.1)
            .attr("width", 2.2)
            .attr("height", 2.2)
            .attr("fill", "#000")

    // fitted curve
    const line = d3.line()
        .x(d => x(d[0]))
        .y(d => y(d[1]))
        .curve(d3.curveMonotoneX)
    g.append("path")
        .attr("d", line(p.fit))
        .attr("fill", "none")
        .attr("stroke", "#ff0000")
        .attr("stroke-width", 1.2)

    // frame
    g.append("rect")
        .attr("width", panelW)
        .attr("height", panelH)
        .attr("fill", "none")
        .attr("stroke", "#000")
        .attr("stroke-width", 1.2)

    // equation block
    const lines = [eqText, r2Text, pText]
    g.selectAll(".eq")
        .data(lines)
        .join("text")
            .attr("class", "eq")
            .attr("x", 11)
            .attr("y", (d, k) => 16 + k * 12)
            .attr("font-family", font)
            .attr("font-size", 9.2)
            .text(d => d)

    // x title
    g.append("text")
        .attr("x", panelW / 2)
        .attr("y", panelH + 29)
        .attr("text-anchor", "middle")
        .attr("font-family", font)
        .attr("font-size", 10.5)
        .style("white-space", "pre")
        .text(p.title)
})
</script>
</body>
</html>
